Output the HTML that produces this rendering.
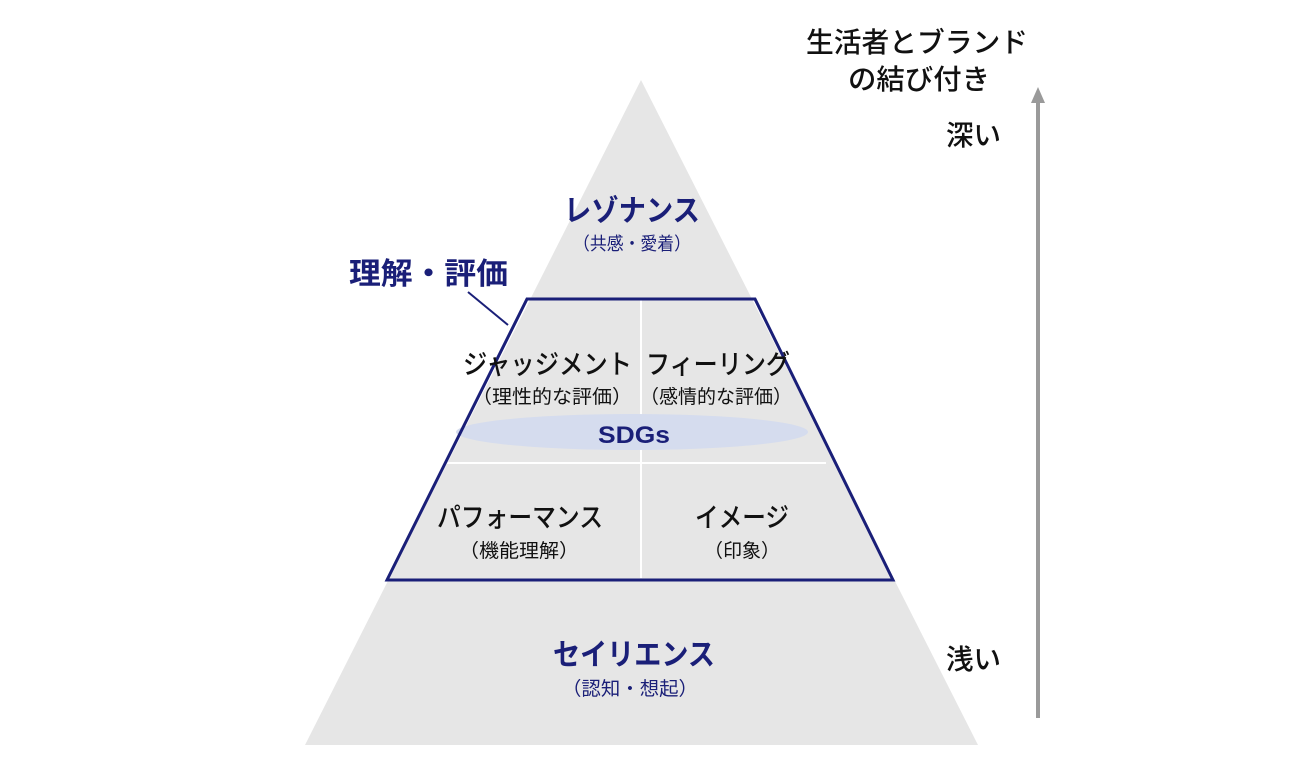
<!DOCTYPE html>
<html><head><meta charset="utf-8"><style>
html,body{margin:0;padding:0;background:#fff;}
svg{display:block;}
text{font-family:"Liberation Sans","Noto Sans CJK JP",sans-serif;}
</style></head><body>
<svg width="1300" height="761" viewBox="0 0 1300 761" xmlns="http://www.w3.org/2000/svg">
<polygon points="641,80 978,745 305,745" fill="#e6e6e6"/>
<line x1="641" y1="300" x2="641" y2="578" stroke="#fff" stroke-width="2"/>
<line x1="447" y1="463" x2="826" y2="463" stroke="#fff" stroke-width="2"/>
<ellipse cx="632" cy="432" rx="176" ry="18" fill="#d5dcee"/>
<polygon points="527,299 755,299 893,580 387,580" fill="none" stroke="#1a1f78" stroke-width="3"/>
<line x1="468" y1="292" x2="508" y2="325" stroke="#1a1f78" stroke-width="2"/>
<g lengthAdjust="spacingAndGlyphs">
<text x="564" y="221" font-size="30" font-weight="bold" fill="#1a1f78" textLength="136" lengthAdjust="spacingAndGlyphs">レゾナンス</text>
<text x="573" y="250" font-size="18" fill="#1a1f78" textLength="118" lengthAdjust="spacingAndGlyphs">（共感・愛着）</text>
<text x="349" y="284" font-size="30" font-weight="bold" fill="#1a1f78" textLength="159" lengthAdjust="spacingAndGlyphs">理解・評価</text>
<text x="463" y="374" font-size="27" font-weight="500" fill="#111" textLength="169" lengthAdjust="spacingAndGlyphs">ジャッジメント</text>
<text x="472" y="403" font-size="19" fill="#111" textLength="160" lengthAdjust="spacingAndGlyphs">（理性的な評価）</text>
<text x="646" y="374" font-size="27" font-weight="500" fill="#111" textLength="144" lengthAdjust="spacingAndGlyphs">フィーリング</text>
<text x="640" y="403" font-size="19" fill="#111" textLength="152" lengthAdjust="spacingAndGlyphs">（感情的な評価）</text>
<text x="598" y="443" font-size="24" font-weight="bold" fill="#1a1f78" textLength="72" lengthAdjust="spacingAndGlyphs">SDGs</text>
<text x="437" y="527" font-size="27" font-weight="500" fill="#111" textLength="166" lengthAdjust="spacingAndGlyphs">パフォーマンス</text>
<text x="459" y="557" font-size="19" fill="#111" textLength="120" lengthAdjust="spacingAndGlyphs">（機能理解）</text>
<text x="695" y="527" font-size="27" font-weight="500" fill="#111" textLength="94" lengthAdjust="spacingAndGlyphs">イメージ</text>
<text x="704" y="557" font-size="19" fill="#111" textLength="76" lengthAdjust="spacingAndGlyphs">（印象）</text>
<text x="553" y="665" font-size="30" font-weight="bold" fill="#1a1f78" textLength="162" lengthAdjust="spacingAndGlyphs">セイリエンス</text>
<text x="562" y="695" font-size="19" fill="#1a1f78" textLength="136" lengthAdjust="spacingAndGlyphs">（認知・想起）</text>
<text x="806" y="52" font-size="28" font-weight="500" fill="#111" textLength="222" lengthAdjust="spacingAndGlyphs">生活者とブランド</text>
<text x="848" y="89" font-size="28" font-weight="500" fill="#111" textLength="142" lengthAdjust="spacingAndGlyphs">の結び付き</text>
<text x="946" y="145" font-size="28" font-weight="500" fill="#111" textLength="55" lengthAdjust="spacingAndGlyphs">深い</text>
<text x="946" y="669" font-size="28" font-weight="500" fill="#111" textLength="55" lengthAdjust="spacingAndGlyphs">浅い</text>
</g>
<line x1="1038" y1="100" x2="1038" y2="718" stroke="#9a9a9a" stroke-width="4"/>
<polygon points="1038,87 1031,103 1045,103" fill="#9a9a9a"/>
</svg>
</body></html>
